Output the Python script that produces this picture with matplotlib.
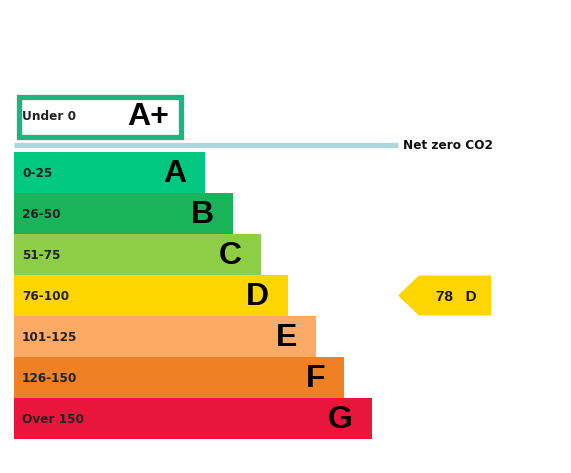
import matplotlib.pyplot as plt
from matplotlib.patches import Rectangle, Polygon

plt.rcParams['font.family'] = ['Liberation Sans', 'DejaVu Sans']

# rating bands
letters = ["A", "B", "C", "D", "E", "F", "G"]
ranges = ["0-25", "26-50", "51-75", "76-100", "101-125", "126-150", "Over 150"]
colors = ["#00c781", "#19b459", "#8dce46", "#ffd500", "#fcaa65", "#ef8023", "#e9153b"]

top_label = "Under 0"
top_letter = "A+"
top_color = "#1db57f"
net_zero_label = "Net zero CO2"
net_zero_color = "#acd6e0"

current_score = 78
current_letter = "D"

W, H = 571, 473
fig = plt.figure(figsize=(W / 100, H / 100), dpi=100)
ax = fig.add_axes([0, 0, 1, 1])
ax.set_xlim(0, W)
ax.set_ylim(H, 0)
ax.axis("off")

small = dict(family=["DejaVu Sans"], fontsize=8.7, fontweight="bold")
big = dict(fontsize=23, fontweight="bold", color="black")

# layout (pixels)
x0 = 14
row_h = 41
y_top = 152
base_len = 191
step = 27.8

lengths = [base_len + step * i for i in range(len(letters))]
ys = [y_top + row_h * i + row_h / 2 for i in range(len(letters))]

ax.barh(ys, lengths, height=row_h + 0.5, left=x0, color=colors, edgecolor="none")

for y, ln, rng, let in zip(ys, lengths, ranges, letters):
    ax.text(x0 + 8, y + 1, rng, color="#222222", ha="left", va="center", **small)
    ax.text(x0 + ln - 19, y + 1, let, ha="right", va="center", **big)

# A+ box
ax.add_patch(Rectangle((18.5, 96.5), 162, 40, facecolor="white",
                       edgecolor=top_color, linewidth=3.8))
ax.text(x0 + 8, 116.5, top_label, color="#222222", ha="left", va="center", **small)
ax.text(169, 117, top_letter, ha="right", va="center", **big)

# net zero line
ax.plot([x0, 398], [145.5, 145.5], color=net_zero_color, linewidth=3.8,
        solid_capstyle="butt")
ax.text(403, 145, net_zero_label, color="#111111", ha="left", va="center", **small)

# current rating arrow
idx = letters.index(current_letter)
cy = ys[idx]
arrow = Polygon([(398, cy), (419, cy - row_h / 2 + 0.5), (491, cy - row_h / 2 + 0.5),
                 (491, cy + row_h / 2 - 0.5), (419, cy + row_h / 2 - 0.5)],
                closed=True, facecolor=colors[idx], edgecolor="none")
ax.add_patch(arrow)
ax.text(456, cy + 1, f"{current_score}   {current_letter}", fontsize=11,
        fontweight="bold", color="#111111", ha="center", va="center")

fig.savefig("out.png", dpi=100, facecolor="white")
